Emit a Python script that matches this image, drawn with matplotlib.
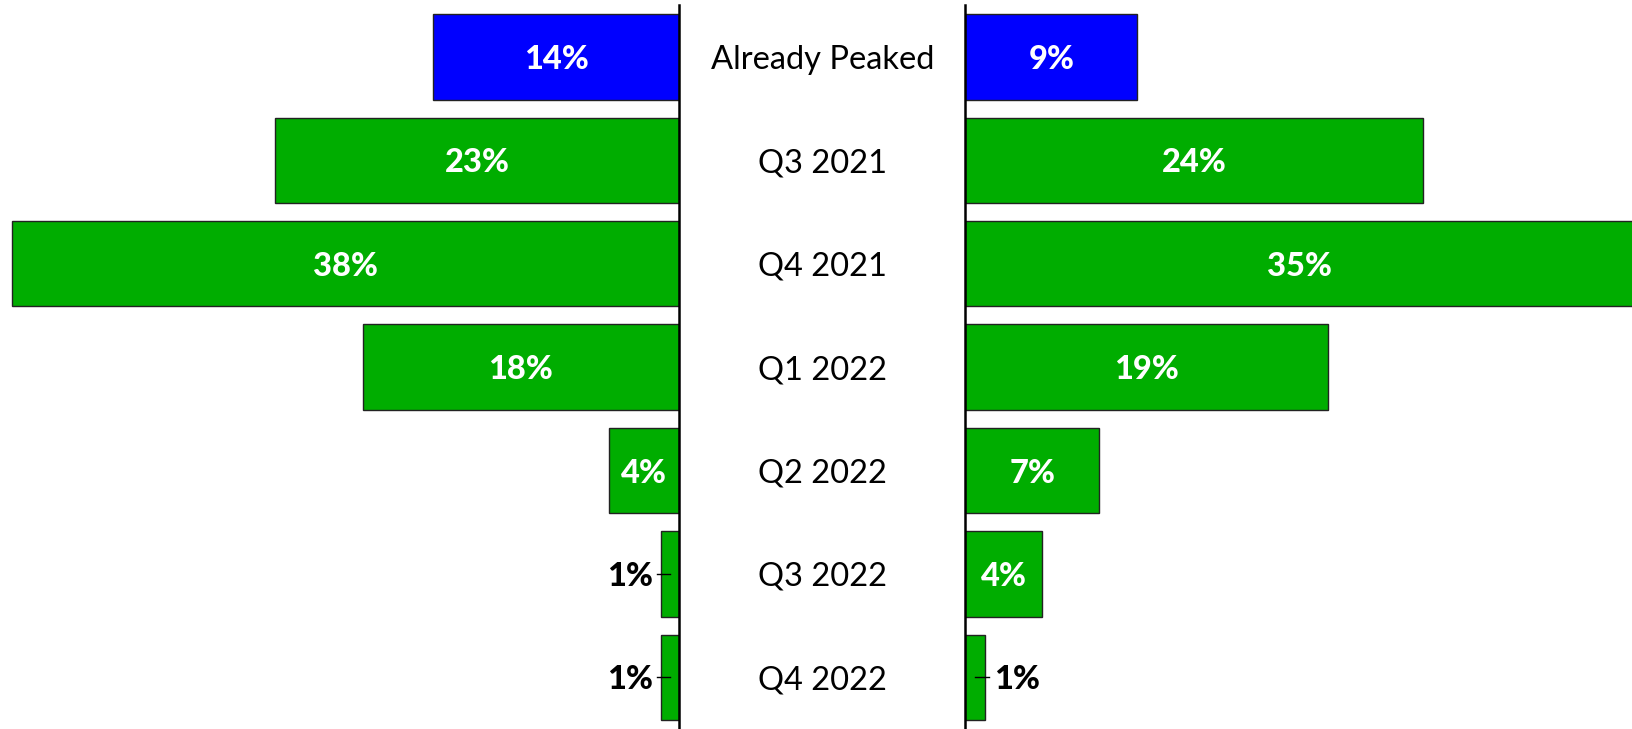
import matplotlib
matplotlib.use("Agg")
import matplotlib.pyplot as plt

categories = ["Already Peaked", "Q3 2021", "Q4 2021", "Q1 2022", "Q2 2022", "Q3 2022", "Q4 2022"]
left_values = [14, 23, 38, 18, 4, 1, 1]
right_values = [9, 24, 35, 19, 7, 4, 1]
bar_colors = ["#0000FF", "#00AD00", "#00AD00", "#00AD00", "#00AD00", "#00AD00", "#00AD00"]

plt.rcParams['font.family'] = ['Lato', 'DejaVu Sans']

W, H = 1633, 729
fig = plt.figure(figsize=(W / 100, H / 100), dpi=100)

top_px = 5.2
ax_h = (H - top_px) / H
axL = fig.add_axes([11.5 / W, 0, (679 - 11.5) / W, ax_h])
axR = fig.add_axes([965.5 / W, 0, (1633 - 965.5) / W, ax_h])

ypos = list(range(len(categories)))
bar_h = 0.825
lab_fs = 23.5
cat_fs = 23.5


def draw(ax, values, side):
    ax.barh(ypos, values, height=bar_h, color=bar_colors, edgecolor="#222222", linewidth=1.0, zorder=2)
    ax.set_xlim(0, max(values))
    ax.set_ylim(len(categories) - 0.5, -0.5)
    if side == "left":
        ax.invert_xaxis()
    ax.axvline(0, color="black", linewidth=1.8, zorder=3, clip_on=False)
    for s in ax.spines.values():
        s.set_visible(False)
    ax.set_xticks([])
    ax.set_yticks([])
    ax.patch.set_alpha(0)
    for y, v in zip(ypos, values):
        if v <= 1:
            ax.plot([v * 0.5, 1.25], [y, y], color="black", linewidth=1.0, zorder=4, clip_on=False)
            ax.text(1.5, y, f"{v}%", ha="right" if side == "left" else "left", va="center_baseline",
                    fontsize=lab_fs, fontweight="black", color="black", clip_on=False)
        else:
            ax.text(v / 2, y, f"{v}%", ha="center", va="center_baseline",
                    fontsize=lab_fs, fontweight="black", color="white")


draw(axL, left_values, "left")
draw(axR, right_values, "right")

cx = (679 + 965.5) / 2 / W
for y, c in zip(ypos, categories):
    disp = axL.transData.transform((0, y))
    fy = fig.transFigure.inverted().transform(disp)[1]
    fig.text(cx, fy, c, ha="center", va="center_baseline", fontsize=cat_fs, color="black")

fig.savefig("out.png", dpi=100)
